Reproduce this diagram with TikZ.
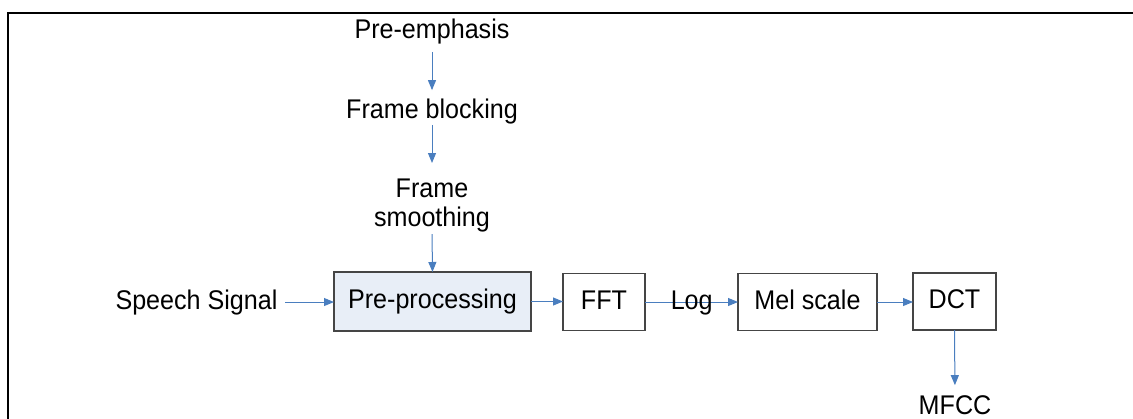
\documentclass[tikz,border=0pt]{standalone}
\usepackage{fontspec}
\setmainfont{Liberation Sans}[FakeStretch=0.93]
\usetikzlibrary{arrows.meta}
\definecolor{boxgray}{HTML}{454545}
\definecolor{ppfill}{HTML}{E8EEF7}
\definecolor{arrblue}{HTML}{4A7EBF}
\tikzset{
  lbl/.style={font=\fontsize{27}{29}\selectfont, inner sep=0pt, outer sep=0pt},
  blk/.style={draw=boxgray, line width=1.3pt, inner sep=0pt, outer sep=0pt,
    minimum height=57pt, text height=19.5pt, text depth=5.5pt,
    font=\fontsize{27}{29}\selectfont},
  arr/.style={draw=arrblue, line width=1pt, -{Triangle[length=10pt,width=8pt]}},
  frameline/.style={draw=black, line width=2.3pt}
}
\begin{document}
\begin{tikzpicture}[x=1pt,y=-1pt]
\useasboundingbox (0,0) rectangle (1133,418);
\draw[frameline] (7.8,420) -- (7.8,12.8) -- (1135,12.8);

% text labels
\node[lbl, anchor=base] (pre) at (432,38.5) {Pre-emphasis};
\node[lbl, anchor=base] (fb) at (432,118.5) {Frame blocking};
\node[lbl, anchor=north, align=center] (fs) at (432,179.2) {Frame\\smoothing};
\node[lbl, anchor=base] (sp) at (196.5,309) {Speech Signal};

% blocks
\node[blk, fill=ppfill, minimum width=197pt, minimum height=59pt] (pp) at (432.5,301.5) {Pre-processing};
\node[blk, minimum width=82pt] (fft) at (604,302) {FFT};
\node[blk, minimum width=139pt] (mel) at (807.5,302) {Mel scale};
\node[blk, minimum width=83pt] (dct) at (954.5,301.5) {DCT};

% connectors
\draw[arr, shorten <=7.8pt, shorten >=8.8pt] (pre.south) -- (fb.north);
\draw[arr, shorten <=0.8pt, shorten >=16.2pt] (fb.south) -- (fs.north);
\draw[arr, shorten <=1.8pt] (fs.south) -- (pp.north);
\draw[arr, shorten <=8pt] (sp.east) -- (sp.east -| pp.west);
\draw[arr] (pp.east) -- (pp.east -| fft.west);
\draw[arr] (fft.east) -- (fft.east -| mel.west);
\node[lbl, anchor=base] (log) at (691.7,309) {Log};
\draw[arr] (mel.east) -- (mel.east -| dct.west);

\node[lbl, anchor=base, text depth=0pt] (mfcc) at (955,414) {MFCC};
\draw[arr, shorten >=10pt] (dct.south) -- (mfcc.north);
\end{tikzpicture}
\end{document}
